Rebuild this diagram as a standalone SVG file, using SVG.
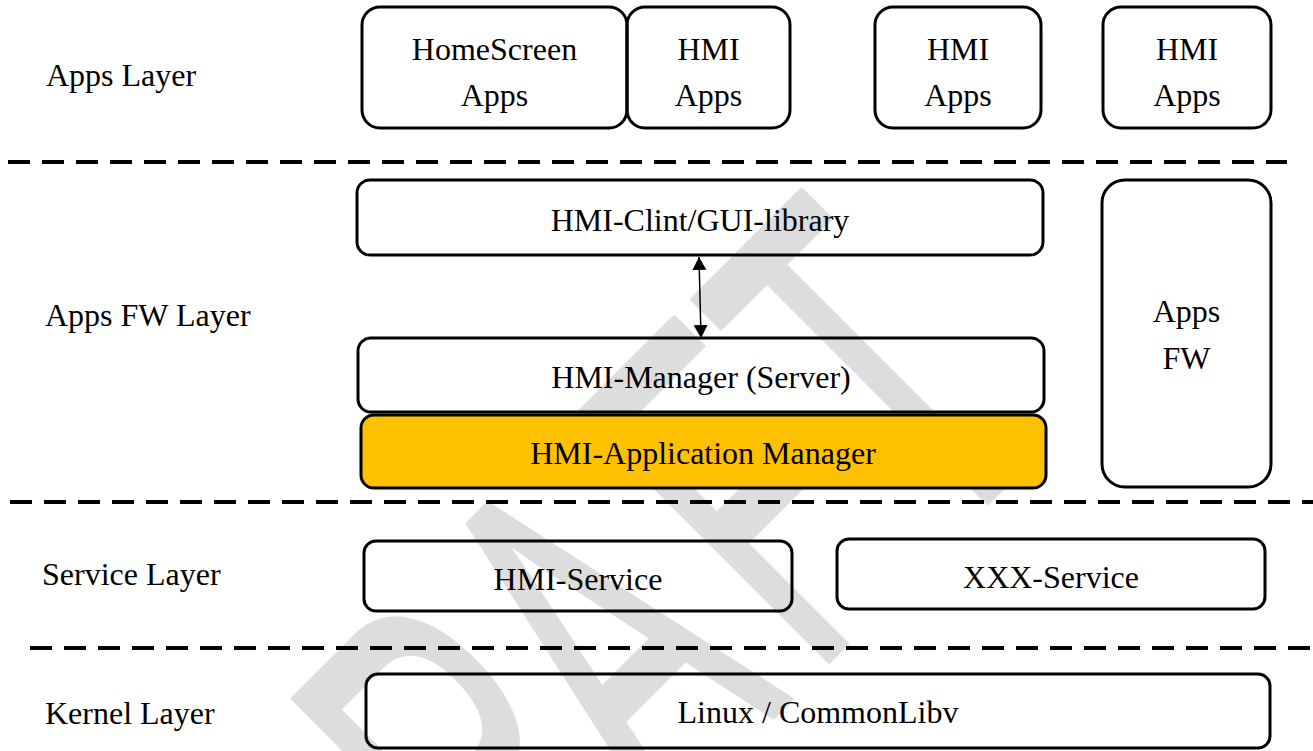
<svg xmlns="http://www.w3.org/2000/svg" width="1313" height="751" viewBox="0 0 1313 751">
<style>
.box{fill:none;stroke:#000;stroke-width:3}
.yel{fill:#FFC000;stroke:#000;stroke-width:3}
.t{font-family:"Liberation Serif","Times New Roman",serif;font-size:32px;fill:#000}
.c{text-anchor:middle}
.dash{stroke:#000;stroke-width:4;stroke-dasharray:22 12;fill:none}
.wm{font-family:"Liberation Sans",Arial,sans-serif;font-size:510px;fill:#dddddd;stroke:#dddddd;stroke-width:5;stroke-linejoin:round}
</style>
<defs>
<marker id="ah" markerUnits="userSpaceOnUse" markerWidth="14" markerHeight="16" refX="13" refY="7" orient="auto-start-reverse" viewBox="0 0 14 16">
<path d="M0,0 L13,7 L0,14 z" fill="#000"/>
</marker>
</defs>
<rect width="1313" height="751" fill="#fff"/>
<g id="watermark">
<text class="wm" transform="translate(283,690) rotate(-45) scale(0.54,1)" x="-398 -41 315 710 1035" y="365" style="vector-effect:non-scaling-stroke">DRAFT</text>
</g>
<g id="layers">
<line class="dash" x1="8" y1="162" x2="1287" y2="162"/>
<line class="dash" x1="10" y1="502" x2="1313" y2="502"/>
<line class="dash" x1="30" y1="648" x2="1313" y2="648"/>
<text class="t" x="46" y="86">Apps Layer</text>
<text class="t" x="45" y="326">Apps FW Layer</text>
<text class="t" x="42" y="585">Service Layer</text>
<text class="t" x="45" y="724">Kernel Layer</text>
</g>
<g id="homescreen-apps">
<rect class="box" x="362" y="7" width="265" height="121" rx="18"/>
<text class="t c" x="494.5" y="60">HomeScreen</text>
<text class="t c" x="494.5" y="106">Apps</text>
</g>
<g id="hmi-apps-1">
<rect class="box" x="627" y="7" width="163" height="121" rx="18"/>
<text class="t c" x="708.5" y="60">HMI</text>
<text class="t c" x="708.5" y="106">Apps</text>
</g>
<g id="hmi-apps-2">
<rect class="box" x="875" y="7" width="166" height="121" rx="18"/>
<text class="t c" x="958" y="60">HMI</text>
<text class="t c" x="958" y="106">Apps</text>
</g>
<g id="hmi-apps-3">
<rect class="box" x="1103" y="7" width="168" height="121" rx="18"/>
<text class="t c" x="1187" y="60">HMI</text>
<text class="t c" x="1187" y="106">Apps</text>
</g>
<g id="hmi-client">
<rect class="box" x="357" y="180" width="686" height="75" rx="13"/>
<text class="t c" x="700" y="231">HMI-Clint/GUI-library</text>
</g>
<g id="hmi-manager">
<rect class="box" x="358" y="338" width="686" height="74" rx="13"/>
<text class="t c" x="701" y="388">HMI-Manager (Server)</text>
</g>
<g id="hmi-app-manager">
<rect class="yel" x="361" y="415" width="685" height="73" rx="13"/>
<text class="t c" x="703" y="464">HMI-Application Manager</text>
</g>
<g id="apps-fw">
<rect class="box" x="1102" y="180" width="169" height="307" rx="23"/>
<text class="t c" x="1186.5" y="322">Apps</text>
<text class="t c" x="1186.5" y="369">FW</text>
</g>
<g id="hmi-service">
<rect class="box" x="364" y="541" width="428" height="70" rx="12"/>
<text class="t c" x="578" y="590">HMI-Service</text>
</g>
<g id="xxx-service">
<rect class="box" x="837" y="539" width="428" height="70" rx="12"/>
<text class="t c" x="1051" y="588">XXX-Service</text>
</g>
<g id="linux">
<rect class="box" x="366" y="674" width="904" height="74" rx="12"/>
<text class="t c" x="818" y="723">Linux / CommonLibv</text>
</g>
<g id="connectors">
<line x1="699" y1="257" x2="701" y2="338" stroke="#000" stroke-width="1.5" marker-start="url(#ah)" marker-end="url(#ah)"/>
</g>
</svg>
